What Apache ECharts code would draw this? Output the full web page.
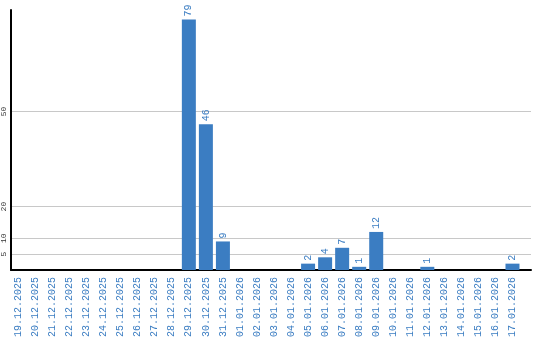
<!DOCTYPE html>
<html>
<head>
<meta charset="utf-8">
<script src="https://cdn.jsdelivr.net/npm/echarts@6/dist/echarts.min.js"></script>
<style>html,body{margin:0;padding:0;background:#fff}#c{width:540px;height:340px}</style>
</head>
<body>
<div id="c"></div>
<script>
const categories = ['19.12.2025','20.12.2025','21.12.2025','22.12.2025','23.12.2025','24.12.2025','25.12.2025','26.12.2025','27.12.2025','28.12.2025','29.12.2025','30.12.2025','31.12.2025','01.01.2026','02.01.2026','03.01.2026','04.01.2026','05.01.2026','06.01.2026','07.01.2026','08.01.2026','09.01.2026','10.01.2026','11.01.2026','12.01.2026','13.01.2026','14.01.2026','15.01.2026','16.01.2026','17.01.2026'];
const values = [0,0,0,0,0,0,0,0,0,0,79,46,9,0,0,0,0,2,4,7,1,12,0,0,1,0,0,0,0,2];
const yTicks = [5,10,20,50];
const yMax = 82;

const blue = '#3b7dc2';
const chart = echarts.init(document.getElementById('c'));
chart.setOption({
  animation: false,
  grid: [
    {left: 10, right: 19, top: 10, bottom: 70, z: 5},
    {left: 10, right: 9, top: 10, bottom: 70, z: 0}
  ],
  xAxis: [
    {type: 'category', gridIndex: 0, data: categories,
     axisLine: {show: false}, axisTick: {show: false},
     axisLabel: {rotate: 90, interval: 0, margin: 7, color: blue, fontSize: 10, fontFamily: 'Liberation Mono'}},
    {type: 'value', gridIndex: 1, min: 0, max: 1, z: 10,
     axisLine: {show: true, lineStyle: {color: '#000', width: 2}}, axisTick: {show: false},
     axisLabel: {show: false}, splitLine: {show: false}}
  ],
  yAxis: [
    {type: 'value', gridIndex: 0, min: 0, max: yMax, show: false, splitLine: {show: false}},
    {type: 'value', gridIndex: 1, min: 0, max: yMax, interval: 5, z: 10,
     axisLine: {show: true, lineStyle: {color: '#000', width: 2}}, axisTick: {show: false},
     splitLine: {show: false},
     axisLabel: {rotate: 90, margin: 3, align: 'center', verticalAlign: 'bottom', color: '#333', fontSize: 8, fontFamily: 'Liberation Mono',
       formatter: v => yTicks.includes(v) ? String(v) : ''}}
  ],
  series: [
    {type: 'line', xAxisIndex: 1, yAxisIndex: 1, z: 0, zlevel: 0, data: [[0, 0]], symbol: 'none',
     lineStyle: {opacity: 0}, silent: true,
     markLine: {silent: true, symbol: 'none', label: {show: false}, z: 0,
       lineStyle: {color: '#c8c8c8', type: 'solid', width: 1},
       data: yTicks.map(v => ({yAxis: v}))}},
    {type: 'bar', xAxisIndex: 0, yAxisIndex: 0, z: 20, data: values, barWidth: 14,
     itemStyle: {color: blue},
     label: {show: true, position: 'top', rotate: 90, align: 'left', verticalAlign: 'middle', distance: 3,
       color: blue, fontSize: 10, fontFamily: 'Liberation Mono',
       formatter: p => p.value ? String(p.value) : ''}}
  ]
});
</script>
</body>
</html>
